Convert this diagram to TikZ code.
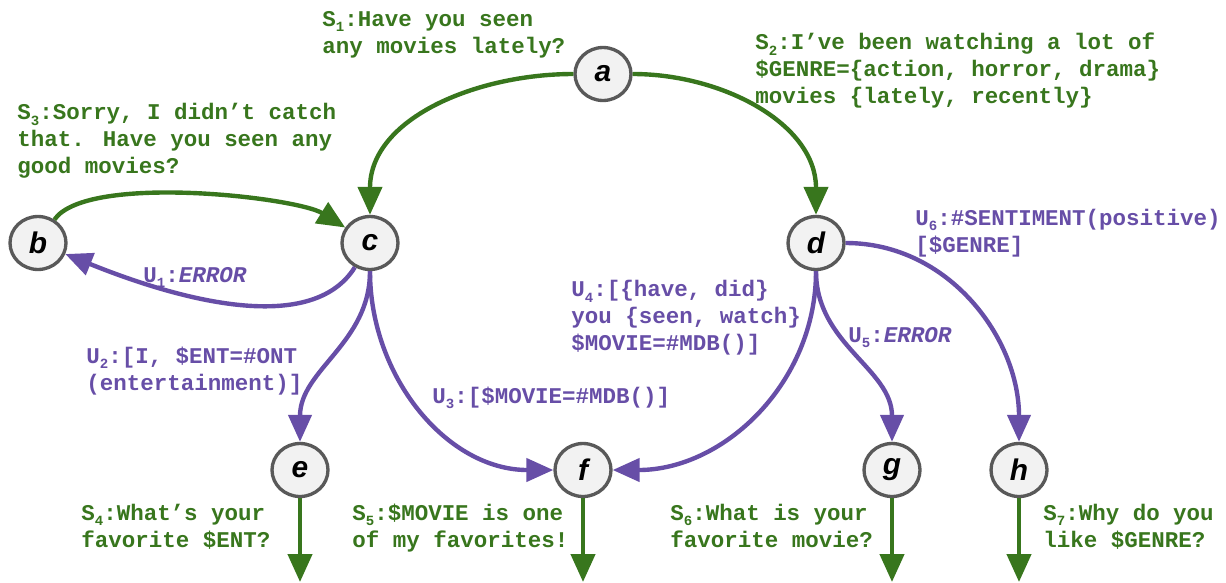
\documentclass[tikz,border=0pt]{standalone}
\usepackage{fontspec}
\setmainfont{Liberation Sans}
\newfontfamily\dialfont{Liberation Mono}
\usetikzlibrary{arrows.meta,shapes.geometric}
\definecolor{sysgreen}{HTML}{38761D}
\definecolor{usrpurple}{HTML}{674EA7}
\newcommand{\idx}[1]{\raisebox{-0.5ex}{\fontsize{8}{8}\selectfont#1}}

\begin{document}
\begin{tikzpicture}[x=0.02cm,y=-0.02cm,
  mynode/.style={ellipse, draw=black!65, fill=black!5, line width=1.9pt, minimum width=1.12cm, minimum height=1.06cm, inner sep=0pt,
    font=\fontsize{17}{17}\selectfont\bfseries\itshape},
  mytext/.style={anchor=base west, inner sep=0pt, align=left,
    font=\dialfont\bfseries\fontsize{12.8}{15.35}\selectfont},
  mysys/.style={mytext, text=sysgreen},
  myusr/.style={mytext, text=usrpurple},
  sysline/.style={draw=sysgreen, line width=2.5pt, -{Triangle[length=0.56cm,width=0.48cm]}},
  usrline/.style={draw=usrpurple, line width=2.5pt, -{Triangle[length=0.54cm,width=0.46cm]}}]
\useasboundingbox (0,0) rectangle (1226,582);

\node[mynode] at (603,74) (a) {a};
\node[mynode] at (38,243) (b) {b};
\node[mynode] at (370,243) (c) {c};
\node[mynode] at (816,243) (d) {d};
\node[mynode] at (300,470) (e) {e};
\node[mynode] at (583,470) (f) {f};
\node[mynode] at (892,470) (g) {g};
\node[mynode] at (1019,470) (h) {h};

\coordinate (eo) at (300,582);
\coordinate (fo) at (583,582);
\coordinate (go) at (892,582);
\coordinate (ho) at (1019,582);

\node[mysys] at (322,53) (s1) {S\idx{1}:Have you seen\\any movies lately?};
\node[mysys] at (755,103) (s2) {S\idx{2}:I’ve been watching a lot of\\\$GENRE=\{action, horror, drama\}\\movies \{lately, recently\}};
\node[mysys] at (17,173) (s3) {S\idx{3}:Sorry, I didn’t catch\\that. Have you seen any\\good movies?};
\node[myusr] at (143,282) (u1) {U\idx{1}:\textit{ERROR}};
\node[myusr] at (86,390) (u2) {U\idx{2}:[I, \$ENT=\#ONT\\(entertainment)]};
\node[myusr] at (432,403) (u3) {U\idx{3}:[\$MOVIE=\#MDB()]};
\node[myusr] at (571,350) (u4) {U\idx{4}:[\{have, did\}\\you \{seen, watch\}\\\$MOVIE=\#MDB()]};
\node[myusr] at (848,342) (u5) {U\idx{5}:\textit{ERROR}};
\node[myusr] at (915,252) (u6) {U\idx{6}:\#SENTIMENT(positive)\\{[}\$GENRE]};
\node[mysys] at (81,547) (s4) {S\idx{4}:What’s your\\favorite \$ENT?};
\node[mysys] at (352,547) (s5) {S\idx{5}:\$MOVIE is one\\of my favorites!};
\node[mysys] at (670,547) (s6) {S\idx{6}:What is your\\favorite movie?};
\node[mysys] at (1043,547) (s7) {S\idx{7}:Why do you\\like \$GENRE?};

\draw[sysline] (a) to[out=180,in=90] (c);
\draw[sysline] (a) to[out=0,in=90] (d);
\draw[sysline] (b) to[out=55,in=148,looseness=0.5] (c);
\draw[usrline] (c) to[out=-122,in=-22,looseness=0.8] (b);
\draw[usrline] (c) to[out=-90,in=90] (e);
\draw[usrline] (c) to[out=-90,in=180] (f);
\draw[usrline] (d) to[out=-90,in=0] (f);
\draw[usrline] (d) to[out=-90,in=90] (g);
\draw[usrline] (d) to[out=0,in=90] (h);
\draw[sysline] (e) -- (eo);
\draw[sysline] (f) -- (fo);
\draw[sysline] (g) -- (go);
\draw[sysline] (h) -- (ho);

\end{tikzpicture}
\end{document}
